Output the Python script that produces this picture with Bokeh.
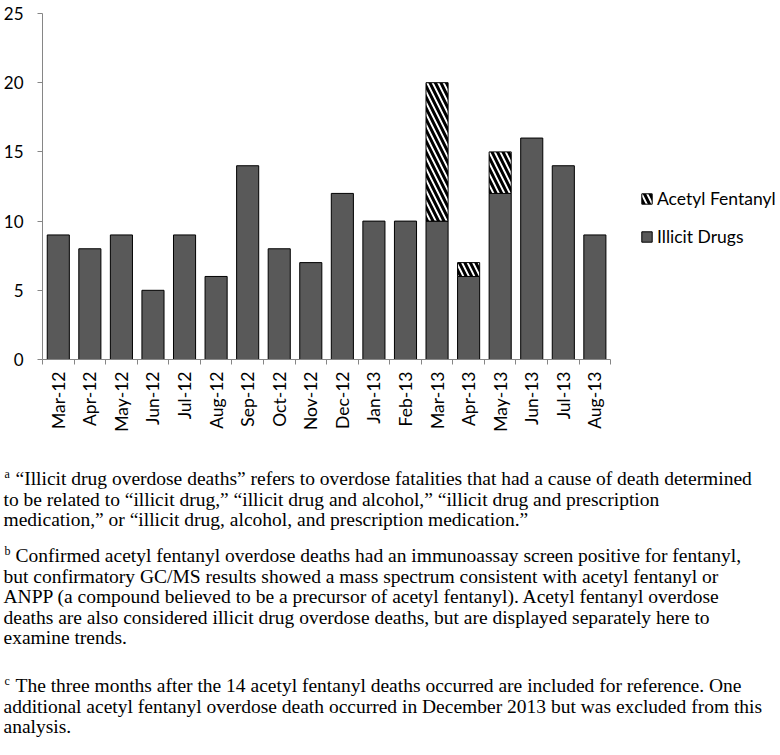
import math
from bokeh.plotting import figure
from bokeh.models import ColumnDataSource, FixedTicker, Legend, LegendItem, Label
from bokeh.embed import file_html
from bokeh.resources import INLINE

# ---- data ----
months = ["Mar-12", "Apr-12", "May-12", "Jun-12", "Jul-12", "Aug-12", "Sep-12",
          "Oct-12", "Nov-12", "Dec-12", "Jan-13", "Feb-13", "Mar-13", "Apr-13",
          "May-13", "Jun-13", "Jul-13", "Aug-13"]
illicit = [9, 8, 9, 5, 9, 6, 14, 8, 7, 12, 10, 10, 10, 6, 12, 16, 14, 9]
acetyl = [0, 0, 0, 0, 0, 0, 0, 0, 0, 0, 0, 0, 10, 1, 3, 0, 0, 0]
y_ticks = [0, 5, 10, 15, 20, 25]

footnote_a = [
    "\u201cIllicit drug overdose deaths\u201d refers to overdose fatalities that had a cause of death determined",
    "to be related to \u201cillicit drug,\u201d \u201cillicit drug and alcohol,\u201d \u201cillicit drug and prescription",
    "medication,\u201d or \u201cillicit drug, alcohol, and prescription medication.\u201d",
]
footnote_b = [
    "Confirmed acetyl fentanyl overdose deaths had an immunoassay screen positive for fentanyl,",
    "but confirmatory GC/MS results showed a mass spectrum consistent with acetyl fentanyl or",
    "ANPP (a compound believed to be a precursor of acetyl fentanyl). Acetyl fentanyl overdose",
    "deaths are also considered illicit drug overdose deaths, but are displayed separately here to",
    "examine trends.",
]
footnote_c = [
    "The three months after the 14 acetyl fentanyl deaths occurred are included for reference. One",
    "additional acetyl fentanyl overdose death occurred in December 2013 but was excluded from this",
    "analysis.",
]

xs = [i + 1 for i in range(len(months))]
src_ill = ColumnDataSource(dict(x=xs, top=illicit))
af_idx = [i for i, v in enumerate(acetyl) if v > 0]
src_af = ColumnDataSource(dict(x=[xs[i] for i in af_idx],
                               bottom=[illicit[i] for i in af_idx],
                               top=[illicit[i] + acetyl[i] for i in af_idx]))

FONT = "Lato"
AXIS_COLOR = "#868686"

CHART_H = 448
FRAME_LEFT, FRAME_TOP, FRAME_BOTTOM = 37, 13, 359
# frame extends to the right edge to host the legend; axis is bounded to the categories
EXTRA = 171 / (572 / len(months))
p = figure(width=780, height=CHART_H,
           x_range=(0.5, len(months) + 0.5 + EXTRA), y_range=(0, 25),
           output_backend="svg", toolbar_location=None,
           min_border_left=FRAME_LEFT, min_border_right=0, min_border_top=FRAME_TOP,
           min_border_bottom=CHART_H - FRAME_BOTTOM)
p.outline_line_color = None
p.xgrid.visible = False
p.ygrid.visible = False

r_ill = p.vbar(x="x", top="top", bottom=0, width=0.7, source=src_ill,
               fill_color="#595959", line_color="black", line_width=1)
r_af = p.vbar(x="x", top="top", bottom="bottom", width=0.7, source=src_af,
              fill_color="white", line_color="black", line_width=1,
              hatch_pattern="\\", hatch_color="black", hatch_weight=3, hatch_scale=11)

xa = p.xaxis[0]
xa.bounds = (0.5, len(months) + 0.5)
xa.ticker = FixedTicker(ticks=xs, minor_ticks=[i + 0.5 for i in range(len(months) + 1)])
xa.major_label_overrides = {x: m for x, m in zip(xs, months)}
xa.major_tick_in = 0
xa.major_tick_out = 0
xa.minor_tick_in = 0
xa.minor_tick_out = 5
xa.minor_tick_line_color = AXIS_COLOR
xa.axis_line_color = AXIS_COLOR
xa.major_label_orientation = math.pi / 2
xa.major_label_standoff = 7
xa.major_label_text_font = FONT
xa.major_label_text_font_size = "17.5px"
xa.major_label_text_color = "black"

ya = p.yaxis[0]
ya.ticker = FixedTicker(ticks=y_ticks)
ya.major_tick_in = 0
ya.major_tick_out = 5
ya.minor_tick_out = 0
ya.minor_tick_in = 0
ya.major_tick_line_color = AXIS_COLOR
ya.axis_line_color = AXIS_COLOR
ya.major_label_standoff = 14
ya.major_label_text_font = FONT
ya.major_label_text_font_size = "17px"
ya.major_label_text_color = "black"

legend = Legend(items=[LegendItem(label="Acetyl Fentanyl", renderers=[r_af]),
                       LegendItem(label="Illicit Drugs", renderers=[r_ill])],
                location=(635 - FRAME_LEFT, FRAME_BOTTOM - 247),
                border_line_color=None, background_fill_alpha=0,
                padding=0, margin=0, spacing=17, glyph_width=13, glyph_height=13,
                label_standoff=4, label_height=20, label_text_font=FONT,
                label_text_font_size="17.5px", label_text_color="black")
p.add_layout(legend, "center")

# ---- footnotes: a second root whose frame covers its whole area ----
NOTE_H = 300
q = figure(width=780, height=NOTE_H, x_range=(0, 1), y_range=(0, 1),
           output_backend="svg", toolbar_location=None,
           x_axis_location=None, y_axis_location=None, min_border=0)
q.outline_line_color = None
q.xgrid.visible = False
q.ygrid.visible = False

SERIF = "Liberation Serif"


def add_para(letter, lines, first_y):
    step = 20.5
    for k, line in enumerate(lines):
        cy = first_y + k * step
        x0 = 3 if k else 15
        q.add_layout(Label(x=x0, y=CHART_H + NOTE_H - cy,
                           x_units="screen", y_units="screen", text=line,
                           text_font=SERIF, text_font_size="19.5px",
                           text_baseline="middle", text_align="left", text_color="black"))
    q.add_layout(Label(x=4, y=CHART_H + NOTE_H - first_y + 5,
                       x_units="screen", y_units="screen", text=letter,
                       text_font=SERIF, text_font_size="12px",
                       text_baseline="middle", text_align="left", text_color="black"))


add_para("a", footnote_a, 478)
add_para("b", footnote_b, 555)
add_para("c", footnote_c, 685)

open("out.html", "w").write(file_html([p, q], INLINE))
